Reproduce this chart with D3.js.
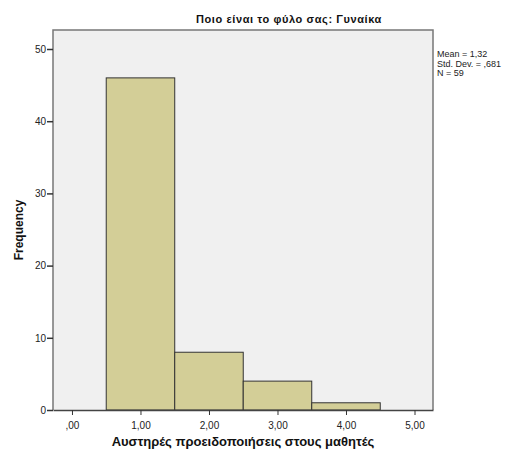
<!DOCTYPE html>
<html><head><meta charset="utf-8">
<script src="https://cdn.jsdelivr.net/npm/d3@7"></script>
<style>body{margin:0;background:#fff}svg{display:block}text{font-family:Arial,"Liberation Sans",sans-serif}</style>
</head><body>
<svg id="c" width="513" height="453"></svg>
<script>
const binStarts = [0.5, 1.5, 2.5, 3.5];
const binEnds = [1.5, 2.5, 3.5, 4.5];
const frequencies = [46, 8, 4, 1];
const xTicks = [0, 1, 2, 3, 4, 5];
const xTickLabels = [",00", "1,00", "2,00", "3,00", "4,00", "5,00"];
const yTicks = [0, 10, 20, 30, 40, 50];
const statsLines = ["Mean = 1,32", "Std. Dev. = ,681", "N = 59"];
const title = "Ποιο είναι το φύλο σας: Γυναίκα";
const xTitle = "Αυστηρές προειδοποιήσεις στους μαθητές";
const yTitle = "Frequency";

const svg = d3.select("#c");
const L = 53, R = 433, T = 30, B = 410;
const x = d3.scaleLinear().domain([-0.277, 5.27]).range([L, R]);
const y = d3.scaleLinear().domain([0, 50]).range([B, 49]);

svg.append("rect").attr("x", L).attr("y", T).attr("width", R - L).attr("height", B - T).attr("fill", "#f0f0f0");

svg.selectAll("rect.bar").data(frequencies).enter().append("rect").attr("class", "bar")
  .attr("x", (d, i) => x(binStarts[i])).attr("width", (d, i) => x(binEnds[i]) - x(binStarts[i]))
  .attr("y", d => y(d)).attr("height", d => y(0) - y(d))
  .attr("fill", "#d3ce97").attr("stroke", "#333").attr("stroke-width", 1);

// frame
svg.append("path").attr("d", `M${L},${B}V${T}H${R}V${B}`).attr("fill", "none").attr("stroke", "#777").attr("stroke-width", 1.5);

const xa = svg.append("g").attr("transform", `translate(0,${B})`)
  .call(d3.axisBottom(x).tickValues(xTicks).tickFormat((d, i) => xTickLabels[i]).tickSize(5).tickSizeOuter(0));
xa.select(".domain").attr("stroke", "#444").attr("stroke-width", 1.5);
xa.selectAll(".tick line").attr("stroke", "#333");
xa.selectAll("text").attr("font-size", 10).attr("fill", "#222").attr("dy", "1.1em");

const ya = svg.append("g").attr("transform", `translate(${L},0)`)
  .call(d3.axisLeft(y).tickValues(yTicks).tickSize(6).tickSizeOuter(0));
ya.select(".domain").remove();
ya.selectAll(".tick line").attr("stroke", "#333").attr("stroke-width", 1.5);
ya.selectAll("text").attr("font-size", 10).attr("fill", "#222").attr("x", -7);

svg.append("text").attr("x", 289).attr("y", 23).attr("text-anchor", "middle")
  .attr("font-size", 11).attr("font-weight", "bold").attr("fill", "#111").attr("letter-spacing", 0.6).text(title);
svg.append("text").attr("x", 243).attr("y", 446).attr("text-anchor", "middle")
  .attr("font-size", 13).attr("font-weight", "bold").attr("fill", "#111").text(xTitle);
svg.append("text").attr("transform", "translate(23,230) rotate(-90)").attr("text-anchor", "middle")
  .attr("font-size", 12).attr("font-weight", "bold").attr("fill", "#111").text(yTitle);

svg.selectAll("text.stat").data(statsLines).enter().append("text").attr("class", "stat")
  .attr("x", 437).attr("y", (d, i) => 57 + i * 9.5).attr("font-size", 9).attr("fill", "#222").text(d => d);
</script>
</body></html>
